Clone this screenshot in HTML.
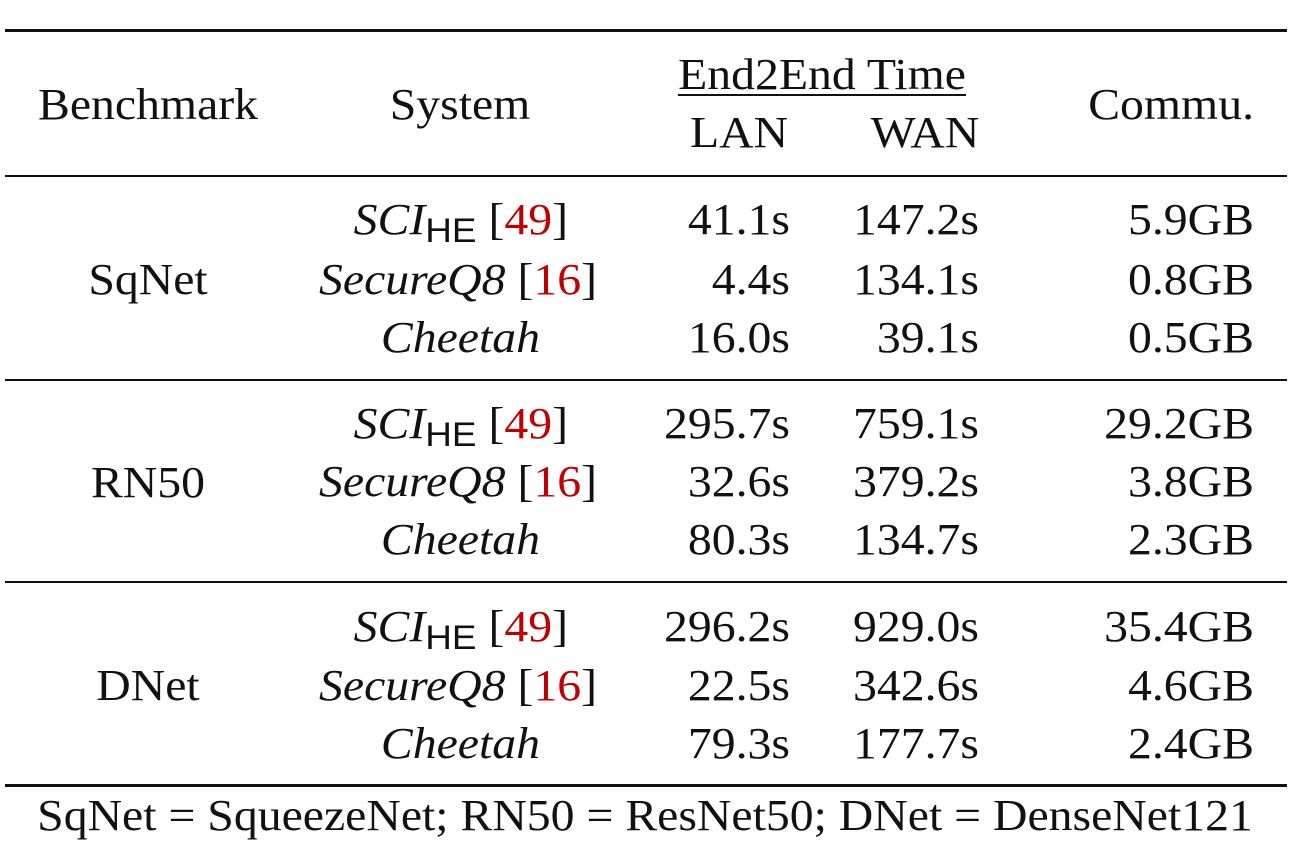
<!DOCTYPE html>
<html><head><meta charset="utf-8"><style>
body{margin:0;background:#fff;width:1292px;height:864px;position:relative;overflow:hidden;font-family:"Liberation Serif",serif;font-size:44px;color:#111}
.t{position:absolute;line-height:50px;height:50px;white-space:nowrap}
.c{transform:translateX(-50%) scaleX(1.085);transform-origin:center center}
.r{transform:translateX(-100%) scaleX(1.085);transform-origin:right center}
.rule{position:absolute;left:5px;width:1282px;background:#111}
.red{color:#c00000}
.sub{font-family:"Liberation Sans",sans-serif;font-style:normal;font-size:34px;position:relative;top:8px}
i{font-style:italic}
</style></head><body>
<div class="rule" style="top:29px;height:3px"></div>
<div class="rule" style="top:175px;height:2px"></div>
<div class="rule" style="top:379px;height:2px"></div>
<div class="rule" style="top:581px;height:2px"></div>
<div class="rule" style="top:784px;height:3px"></div>
<div style="position:absolute;left:678px;width:288px;top:94px;height:2px;background:#111"></div>

<div class="t c" style="left:148px;top:80px">Benchmark</div>
<div class="t c" style="left:460px;top:80px">System</div>
<div class="t c" style="left:822px;top:50px">End2End Time</div>
<div class="t c" style="left:739px;top:108px">LAN</div>
<div class="t c" style="left:925px;top:108px">WAN</div>
<div class="t r" style="left:1254px;top:80px">Commu.</div>

<div class="t c" style="left:148px;top:255px">SqNet</div>
<div class="t c" style="left:148px;top:458px">RN50</div>
<div class="t c" style="left:148px;top:661px">DNet</div>

<div class="t r" style="left:568px;top:195px"><i>SCI</i><span class="sub">HE</span> [<span class="red">49</span>]</div>
<div class="t r" style="left:597px;top:255px"><i>SecureQ8</i> [<span class="red">16</span>]</div>
<div class="t r" style="left:540px;top:313px"><i>Cheetah</i></div>
<div class="t r" style="left:568px;top:399px"><i>SCI</i><span class="sub">HE</span> [<span class="red">49</span>]</div>
<div class="t r" style="left:597px;top:457px"><i>SecureQ8</i> [<span class="red">16</span>]</div>
<div class="t r" style="left:540px;top:515px"><i>Cheetah</i></div>
<div class="t r" style="left:568px;top:602px"><i>SCI</i><span class="sub">HE</span> [<span class="red">49</span>]</div>
<div class="t r" style="left:597px;top:661px"><i>SecureQ8</i> [<span class="red">16</span>]</div>
<div class="t r" style="left:540px;top:719px"><i>Cheetah</i></div>

<div class="t r" style="left:790px;top:195px">41.1s</div>
<div class="t r" style="left:790px;top:255px">4.4s</div>
<div class="t r" style="left:790px;top:313px">16.0s</div>
<div class="t r" style="left:790px;top:399px">295.7s</div>
<div class="t r" style="left:790px;top:457px">32.6s</div>
<div class="t r" style="left:790px;top:515px">80.3s</div>
<div class="t r" style="left:790px;top:602px">296.2s</div>
<div class="t r" style="left:790px;top:661px">22.5s</div>
<div class="t r" style="left:790px;top:719px">79.3s</div>

<div class="t r" style="left:979px;top:195px">147.2s</div>
<div class="t r" style="left:979px;top:255px">134.1s</div>
<div class="t r" style="left:979px;top:313px">39.1s</div>
<div class="t r" style="left:979px;top:399px">759.1s</div>
<div class="t r" style="left:979px;top:457px">379.2s</div>
<div class="t r" style="left:979px;top:515px">134.7s</div>
<div class="t r" style="left:979px;top:602px">929.0s</div>
<div class="t r" style="left:979px;top:661px">342.6s</div>
<div class="t r" style="left:979px;top:719px">177.7s</div>

<div class="t r" style="left:1254px;top:195px">5.9GB</div>
<div class="t r" style="left:1254px;top:255px">0.8GB</div>
<div class="t r" style="left:1254px;top:313px">0.5GB</div>
<div class="t r" style="left:1254px;top:399px">29.2GB</div>
<div class="t r" style="left:1254px;top:457px">3.8GB</div>
<div class="t r" style="left:1254px;top:515px">2.3GB</div>
<div class="t r" style="left:1254px;top:602px">35.4GB</div>
<div class="t r" style="left:1254px;top:661px">4.6GB</div>
<div class="t r" style="left:1254px;top:719px">2.4GB</div>

<div class="t c" style="left:645px;top:791px">SqNet = SqueezeNet; RN50 = ResNet50; DNet = DenseNet121</div>
</body></html>
